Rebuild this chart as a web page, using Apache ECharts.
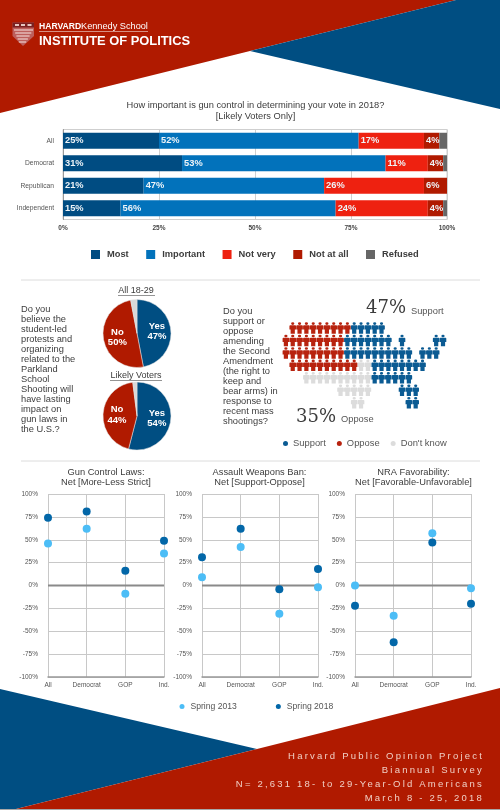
<!DOCTYPE html>
<html><head><meta charset="utf-8">
<style>html,body{margin:0;padding:0;background:#fff}#c{width:500px;height:810px;filter:blur(0.6px)}</style>
<script src="https://cdn.jsdelivr.net/npm/echarts@6/dist/echarts.min.js"></script>
</head><body><div id="c"></div>
<script>
// ---- data ----
const barCategories = ['All','Democrat','Republican','Independent'];
const barMost =      [25,31,21,15];
const barImportant = [52,53,47,56];
const barNotVery =   [17,11,26,24];
const barNotAtAll =  [4,4,6,4];
const barRefused =   [2,1,0,1];
const barNames = ['Most','Important','Not very','Not at all','Refused'];
const pieAll = [47,50,3];
const pieLikely = [54,44,2];
const netCategories = ['All','Democrat','GOP','Ind.'];
const gun2013 = [46,62,-9,35];
const gun2018 = [74,81,16,49];
const assault2013 = [9,42,-31,-2];
const assault2018 = [31,62,-4,18];
const nra2013 = [0,-33,57,-3];
const nra2018 = [-22,-62,47,-20];
const netTicks = [-100,-75,-50,-25,0,25,50,75,100];
// pictogram map: [row, first column, last column]
const mapSupport = [[0,9,13],[1,8,14],[1,16,16],[1,21,22],[2,8,17],[2,19,21],[3,12,19],[4,12,17],[5,16,18],[6,17,18]];
const mapOppose = [[0,0,8],[1,-1,7],[2,-1,7],[3,0,9]];
const mapDontKnow = [[3,10,11],[4,2,11],[5,7,11],[6,9,10]];

// ---- style constants ----
const RED='#b01a00', BLUE='#004e82', TXT='#3c3c3c', FONT='"Liberation Sans",Arial,sans-serif';
const footerLines = ['Harvard Public Opinion Project','Biannual Survey','N= 2,631 18- to 29-Year-Old Americans','March 8 - 25, 2018'];

// footer is letter-spaced in the original; canvas supports this natively
const _ft = CanvasRenderingContext2D.prototype.fillText;
CanvasRenderingContext2D.prototype.fillText = function(t,x,y,m){
  this.letterSpacing = footerLines.includes(t) ? '2.2px' : '0px';
  return _ft.call(this,t,x,y,m);
};

const expand = spec => spec.flatMap(([r,a,b]) => { const o=[]; for(let c=a;c<=b;c++) o.push([c,r]); return o; });
const person = 'path://M5 0a2.3 2.3 0 1 0 .01 0zM1.5 5.2h7a1.2 1.2 0 0 1 1.2 1.2v6.4H8v7.2H2v-7.2H.3V6.4a1.2 1.2 0 0 1 1.2-1.2z';

const txt = (x,y,text,o={}) => ({type:'text',x,y,z:5,silent:true,style:Object.assign({text,fill:TXT,font:`9px ${FONT}`,textAlign:'left',textVerticalAlign:'middle'},o)});
const line = (x1,y1,x2,y2,stroke,w=1) => ({type:'line',z:5,silent:true,shape:{x1,y1,x2,y2},style:{stroke,lineWidth:w}});
const poly = (points,fill) => ({type:'polygon',z:-5,silent:true,shape:{points},style:{fill}});
const box = (x,y,width,height,fill,z=6) => ({type:'rect',z,silent:true,shape:{x,y,width,height},style:{fill}});

const leftQ = ['Do you','believe the','student-led','protests and','organizing','related to the','Parkland','School','Shooting will','have lasting','impact on','gun laws in','the U.S.?'];
const midQ = ['Do you','support or','oppose','amending','the Second','Amendment','(the right to','keep and','bear arms) in','response to','recent mass','shootings?'];

const graphics = [
  poly([[0,0],[456,0],[250,51],[0,113]],RED),
  poly([[250,51],[456,0],[500,0],[500,109]],BLUE),
  poly([[0,689],[257,749],[16,809],[0,809]],BLUE),
  poly([[500,688],[257,749],[16,809],[500,809]],RED),
  box(0,809,500,1,'#a8a8a8',-5),
  // logo
  {type:'polygon',z:5,silent:true,shape:{points:[[12.5,22.5],[34,22.5],[34,36],[23,46],[12.5,36]]},style:{fill:'#bd5f5c'}},
  box(12.5,22.5,21.5,5,'#7a2020'),
  box(15,24,4,2,'#e6c6c0',7), box(21,24,4,2,'#e6c6c0',7), box(27.5,24,4,2,'#e6c6c0',7),
  ...[30,33,36,39,42].map((y,i)=>line(14+i*1.2,y,33-i*1.7,y,'#f7e6e2',1)),
  txt(39,26.5,'HARVARD',{fill:'#fff',font:`bold 8.6px ${FONT}`}),
  txt(81,26.5,'Kennedy School',{fill:'#fff',font:`9.2px ${FONT}`}),
  line(39,31.5,148,31.5,'#e9c4bb',0.7),
  txt(39,41,'INSTITUTE OF POLITICS',{fill:'#fff',font:`bold 12.9px ${FONT}`}),
  // titles
  txt(255.5,105,'How important is gun control in determining your vote in 2018?',{textAlign:'center',font:`9.3px ${FONT}`}),
  txt(255.5,116,'[Likely Voters Only]',{textAlign:'center',font:`9.3px ${FONT}`}),
  line(21,280,480,280,'#dcdcdc',1),
  line(21,461,480,461,'#dcdcdc',1),
  ...leftQ.map((s,i)=>txt(21,309+i*10,s,{font:`9.3px ${FONT}`})),
  ...midQ.map((s,i)=>txt(223,311+i*10,s,{font:`9.3px ${FONT}`})),
  txt(136,291,'All 18-29',{textAlign:'center',font:`9px ${FONT}`}),
  line(118,295.5,155,295.5,'#666',0.7),
  txt(136,376,'Likely Voters',{textAlign:'center',font:`9px ${FONT}`}),
  line(110,380.5,162,380.5,'#666',0.7),
  txt(366,308,'47%',{font:`18px "DejaVu Serif",serif`}),
  txt(411,311.5,'Support',{font:`9.3px ${FONT}`,fill:'#555'}),
  txt(296,417,'35%',{font:`18px "DejaVu Serif",serif`}),
  txt(341,419,'Oppose',{font:`9.3px ${FONT}`,fill:'#555'}),
  txt(106,472,'Gun Control Laws:',{textAlign:'center',font:`9.3px ${FONT}`}),
  txt(106,482,'Net [More-Less Strict]',{textAlign:'center',font:`9.3px ${FONT}`}),
  txt(259.5,472,'Assault Weapons Ban:',{textAlign:'center',font:`9.3px ${FONT}`}),
  txt(259.5,482,'Net [Support-Oppose]',{textAlign:'center',font:`9.3px ${FONT}`}),
  txt(413.5,472,'NRA Favorability:',{textAlign:'center',font:`9.3px ${FONT}`}),
  txt(413.5,482,'Net [Favorable-Unfavorable]',{textAlign:'center',font:`9.3px ${FONT}`}),
  ...footerLines.map((s,i)=>txt(484,756.5+i*14,s,{fill:'#f0cfc4',textAlign:'right',font:`9.5px ${FONT}`}))
];

const netGrids=[48,202,355].map(left=>({left,width:116,top:494,height:183,show:false}));
const grids=[{left:63,width:384,top:129.5,height:90,show:true,borderColor:'#cfcfcf',borderWidth:1},
  {left:285.9,width:157.1,top:328,height:74.7},...netGrids];

const netX=i=>({type:'category',gridIndex:i,data:netCategories,boundaryGap:false,
  axisLine:{show:true,onZero:false,lineStyle:{color:'#999',width:1.5}},axisTick:{show:false},
  axisLabel:{show:true,color:'#555',fontSize:6.5,fontFamily:FONT,margin:5,interval:0,hideOverlap:false},
  splitLine:{show:true,interval:0,lineStyle:{color:'#c8c8c8',width:1}}});
const netY=i=>({type:'value',gridIndex:i,min:netTicks[0],max:netTicks[8],interval:25,
  axisLine:{show:false},axisTick:{show:false},
  axisLabel:{color:'#555',fontSize:6.5,fontFamily:FONT,margin:10,formatter:'{value}%'},
  splitLine:{show:true,lineStyle:{color:'#c8c8c8',width:1}}});

const barColors=['#004c82','#0272bb','#ee2110','#b01a00','#666666'];
const barData=[barMost,barImportant,barNotVery,barNotAtAll,barRefused];
const barSeries=barNames.map((name,i)=>({type:'bar',name,stack:'a',xAxisIndex:0,yAxisIndex:0,barWidth:16,data:barData[i],
  itemStyle:{color:barColors[i]},
  label:{show:i<4,position:'insideLeft',distance:2,color:'#eef4f8',fontSize:9.3,fontWeight:'bold',fontFamily:FONT,formatter:'{c}%'}}));

const mapSeries=[['Support',mapSupport,'#0b5b93'],['Oppose',mapOppose,'#b8230f'],["Don't know",mapDontKnow,'#dcdcdc']].map(([name,spec,color])=>({
  type:'scatter',name,xAxisIndex:1,yAxisIndex:1,symbol:person,symbolSize:[6.6,11.5],data:expand(spec),itemStyle:{color,opacity:1}}));

const pie=(cy,vals)=>({type:'pie',center:[137,cy],radius:34,startAngle:90,clockwise:true,silent:true,
  data:[{name:'Yes',value:vals[0],itemStyle:{color:BLUE}},{name:'No',value:vals[1],itemStyle:{color:RED}},{name:'Other',value:vals[2],itemStyle:{color:'#d8d8d8'},label:{show:false}}],
  itemStyle:{borderColor:'#e4e4e4',borderWidth:0.5},labelLine:{show:false},
  label:{position:'inside',color:'#fff',fontSize:9.5,fontWeight:'bold',lineHeight:10.5,fontFamily:FONT,formatter:p=>`${p.name}\n${p.value}%`}});

const C13='#4cbdf6', C18='#0367a8';
const netSeries=[[gun2013,gun2018],[assault2013,assault2018],[nra2013,nra2018]].flatMap(([a,b],i)=>[
  {type:'line',name:'zero'+i,xAxisIndex:i+2,yAxisIndex:i+2,data:[0,0,0,0],symbol:'none',lineStyle:{color:'#8a8a8a',width:2},z:2,silent:true},
  {type:'scatter',name:'Spring 2013',xAxisIndex:i+2,yAxisIndex:i+2,data:a,symbolSize:8,itemStyle:{color:C13,opacity:1},z:3},
  {type:'scatter',name:'Spring 2018',xAxisIndex:i+2,yAxisIndex:i+2,data:b,symbolSize:8,itemStyle:{color:C18,opacity:1},z:4}]);

const legendBase={padding:0,textStyle:{fontFamily:FONT,color:TXT},selectedMode:false};
const chart=echarts.init(document.getElementById('c'),null,{renderer:'canvas',width:500,height:810});
chart.setOption({
  animation:false,backgroundColor:'#fff',
  grid:grids,
  xAxis:[
    {type:'value',gridIndex:0,min:0,max:100,interval:25,axisLine:{show:false},axisTick:{show:false},
     axisLabel:{color:'#444',fontSize:6.5,fontWeight:'bold',fontFamily:FONT,margin:5,formatter:'{value}%'},
     splitLine:{show:true,lineStyle:{color:'#cfcfcf',width:1}}},
    {type:'value',gridIndex:1,min:-1,max:22,show:false,splitLine:{show:false}},
    netX(2),netX(3),netX(4)],
  yAxis:[
    {type:'category',gridIndex:0,inverse:true,data:barCategories,axisLine:{show:true,lineStyle:{color:'#999',width:1}},axisTick:{show:false},
     axisLabel:{color:'#555',fontSize:6.7,fontFamily:FONT,margin:9},splitLine:{show:false}},
    {type:'value',gridIndex:1,inverse:true,min:0,max:6,show:false,splitLine:{show:false}},
    netY(2),netY(3),netY(4)],
  legend:[
    {...legendBase,left:91,top:250,itemWidth:9,itemHeight:9,itemGap:17.5,icon:'rect',data:barNames,
     textStyle:{...legendBase.textStyle,fontSize:9.3,fontWeight:'bold',padding:[0,0,0,2]}},
    {...legendBase,left:283,top:439,itemWidth:5,itemHeight:5,itemGap:11,icon:'circle',data:['Support','Oppose',"Don't know"],
     textStyle:{...legendBase.textStyle,fontSize:9.4,color:'#555'}},
    {...legendBase,left:179.5,top:702,itemWidth:5,itemHeight:5,itemGap:39,icon:'circle',data:['Spring 2013','Spring 2018'],
     textStyle:{...legendBase.textStyle,fontSize:8.6,color:'#555',padding:[0,0,0,1]}}],
  series:[...barSeries,...mapSeries,pie(333.5,pieAll),pie(416,pieLikely),...netSeries],
  graphic:{elements:graphics}
});
</script></body></html>
